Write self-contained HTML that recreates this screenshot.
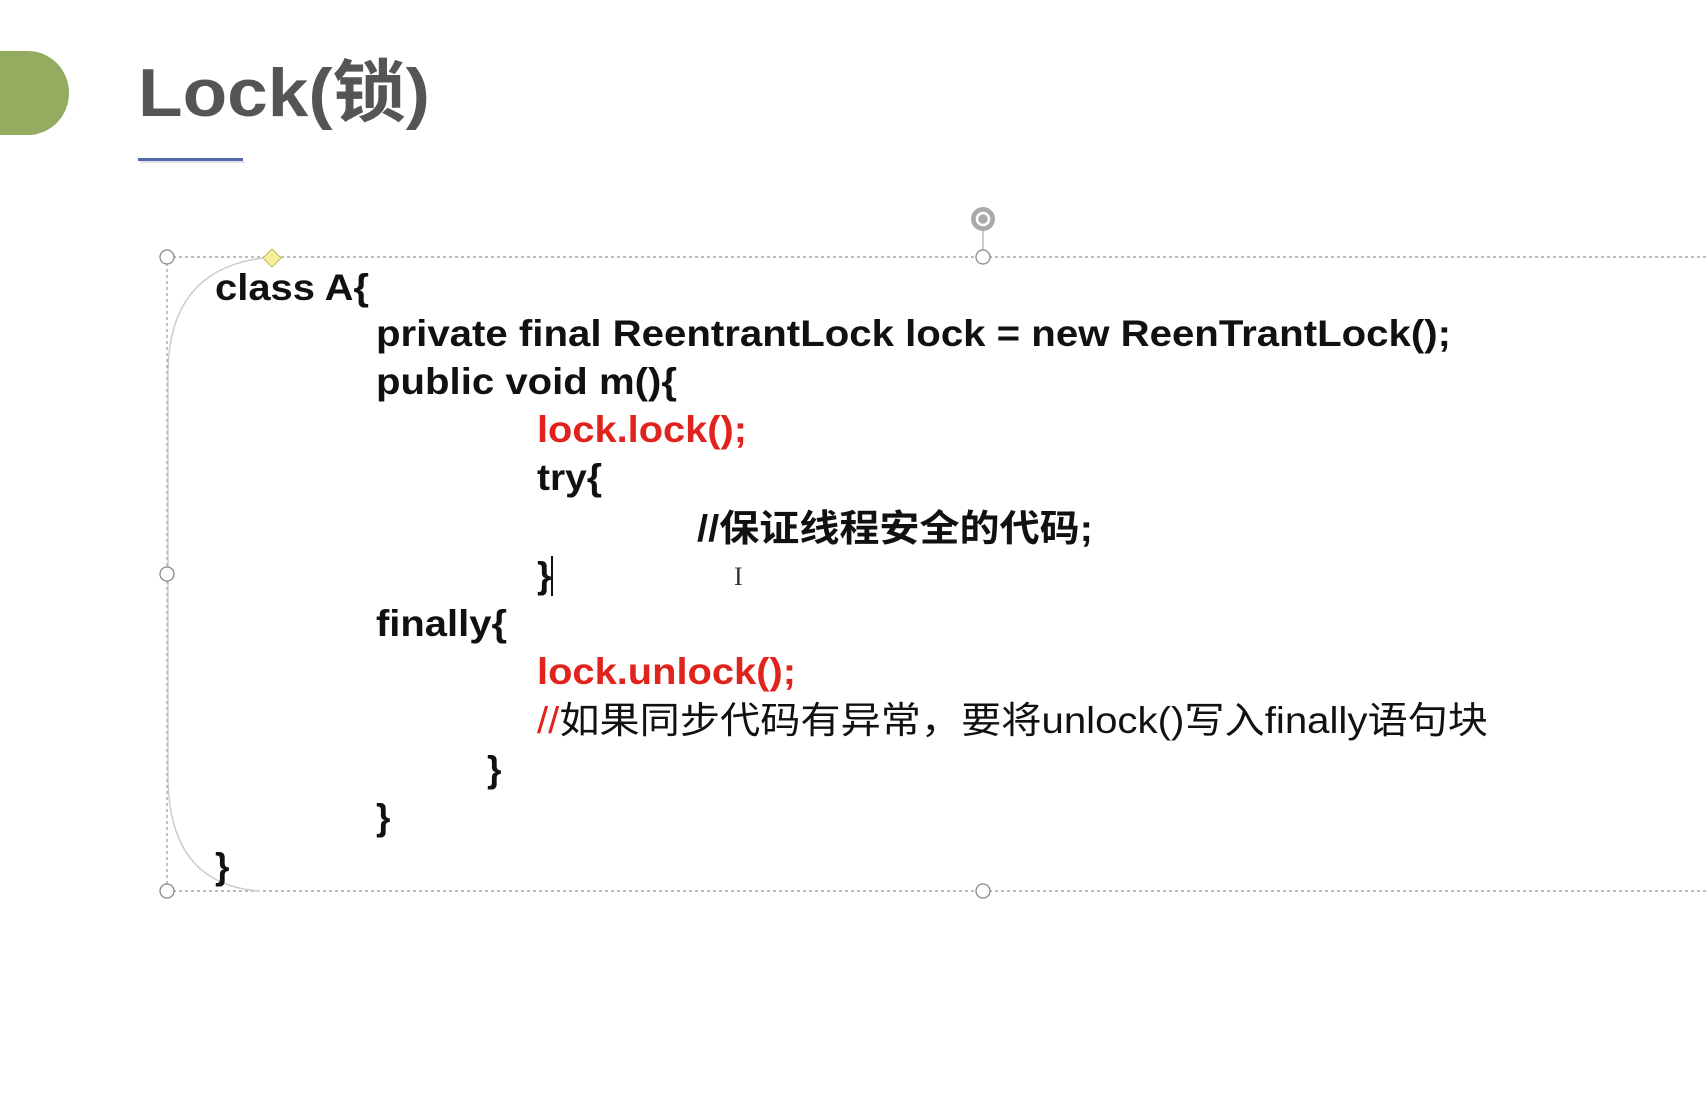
<!DOCTYPE html>
<html><head><meta charset="utf-8"><style>
html,body{margin:0;padding:0;background:#fff;width:1708px;height:1120px;overflow:hidden}
</style></head><body>
<svg width="1708" height="1120" viewBox="0 0 1708 1120" xmlns="http://www.w3.org/2000/svg">
<path d="M0 51 H28 A41 42 0 0 1 28 135 H0 Z" fill="#93ac5f"/>
<text x="138" y="116" font-family="Liberation Sans, Noto Sans CJK SC, sans-serif" font-weight="bold" font-size="68" fill="#555" textLength="292" lengthAdjust="spacingAndGlyphs">Lock(锁)</text>
<rect x="138" y="158" width="105" height="3" fill="#5468a8"/>
<rect x="140" y="161" width="105" height="2" fill="#ccd" opacity="0.6"/>
<g stroke="#8aa07a" stroke-width="1.2" stroke-dasharray="3,3" fill="none">
<line x1="167" y1="257" x2="1708" y2="257"/>
<line x1="167" y1="891" x2="1708" y2="891"/>
<line x1="167" y1="257" x2="167" y2="891" stroke="#999"/>
</g>
<path d="M272 257 Q170 265 168 370 L168 780 Q170 885 260 891" stroke="#ccc" stroke-width="1.5" fill="none"/>
<line x1="983" y1="228" x2="983" y2="257" stroke="#999"/>
<circle cx="983" cy="219" r="12" fill="#aaa"/>
<circle cx="983" cy="219" r="6" fill="none" stroke="#fff" stroke-width="2.5"/>
<g fill="#fff" stroke="#888" stroke-width="1.3">
<circle cx="167" cy="257" r="7"/><circle cx="983" cy="257" r="7"/>
<circle cx="167" cy="574" r="7"/><circle cx="167" cy="891" r="7"/><circle cx="983" cy="891" r="7"/>
</g>
<path d="M272 249 L281 258 L272 267 L263 258 Z" fill="#f4f0a0" stroke="#c8b850"/>
<g font-family="Liberation Sans, Noto Sans CJK SC, sans-serif" font-weight="bold" font-size="37" fill="#111">
<text x="215" y="300" textLength="154" lengthAdjust="spacingAndGlyphs">class A{</text>
<text x="376" y="346" textLength="1075" lengthAdjust="spacingAndGlyphs">private final ReentrantLock lock = new ReenTrantLock();</text>
<text x="376" y="394" textLength="301" lengthAdjust="spacingAndGlyphs">public void m(){</text>
<text x="537" y="442" fill="#e0231c" textLength="210" lengthAdjust="spacingAndGlyphs">lock.lock();</text>
<text x="537" y="490" textLength="65" lengthAdjust="spacingAndGlyphs">try{</text>
<text x="697" y="541" textLength="396" lengthAdjust="spacingAndGlyphs">//保证线程安全的代码;</text>
<text x="537" y="588">}</text>
<text x="376" y="636" textLength="131" lengthAdjust="spacingAndGlyphs">finally{</text>
<text x="537" y="684" fill="#e0231c" textLength="259" lengthAdjust="spacingAndGlyphs">lock.unlock();</text>
<text x="487" y="782">}</text>
<text x="376" y="830">}</text>
<text x="215" y="879">}</text>
</g>
<text x="537" y="733" font-family="Liberation Sans, Noto Sans CJK SC, sans-serif" font-size="37" fill="#111" textLength="951" lengthAdjust="spacingAndGlyphs"><tspan fill="#e0231c">//</tspan>如果同步代码有异常，要将unlock()写入finally语句块</text>
<rect x="551" y="556" width="2" height="40" fill="#111"/>
<text x="734" y="585" font-family="Liberation Serif, serif" font-size="26" fill="#333">I</text>
</svg>
</body></html>
